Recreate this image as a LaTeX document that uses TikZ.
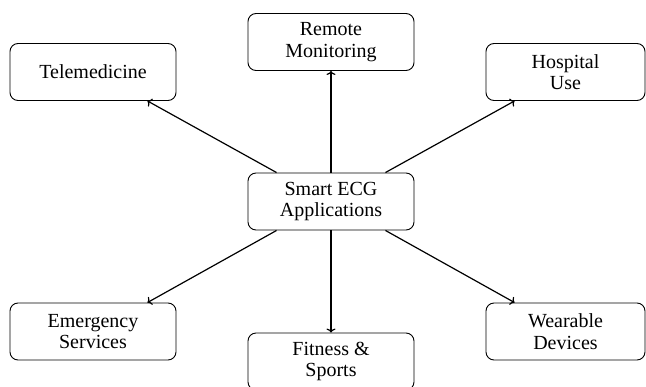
\documentclass[tikz,border=0pt]{standalone}
\usepackage{fontspec}
\setmainfont{Liberation Serif}
\usetikzlibrary{arrows.meta}
\begin{document}
\begin{tikzpicture}[x=1pt,y=-1pt,
  box/.style={draw,line width=0.9pt,rounded corners=8pt,minimum width=166pt,minimum height=57pt,
    align=center,inner sep=0pt,font=\fontsize{20}{21.5}\selectfont},
  arr/.style={line width=1.2pt,-{To[length=4pt,width=9pt]}}]
\useasboundingbox (0,0) rectangle (646,386);
\node[box] (c) at (331,201.5) {Smart ECG\\Applications};
\node[box] (rm) at (331,42) {Remote\\Monitoring};
\node[box] (tm) at (93,72) {Telemedicine};
\node[box,minimum width=159pt] (hu) at (565.5,72) {Hospital\\Use};
\node[box] (es) at (93,331.5) {Emergency\\Services};
\node[box] (fs) at (331,361.5) {Fitness \&\\Sports};
\node[box,minimum width=159pt] (wd) at (565.5,331.5) {Wearable\\Devices};
\draw[arr] (c.north) -- (rm.south);
\draw[arr] ([xshift=29pt]c.north west) -- ([xshift=-29pt]tm.south east);
\draw[arr] ([xshift=-29pt]c.north east) -- ([xshift=29pt]hu.south west);
\draw[arr] (c.south) -- (fs.north);
\draw[arr] ([xshift=29pt]c.south west) -- ([xshift=-29pt]es.north east);
\draw[arr] ([xshift=-29pt]c.south east) -- ([xshift=29pt]wd.north west);
\end{tikzpicture}
\end{document}
